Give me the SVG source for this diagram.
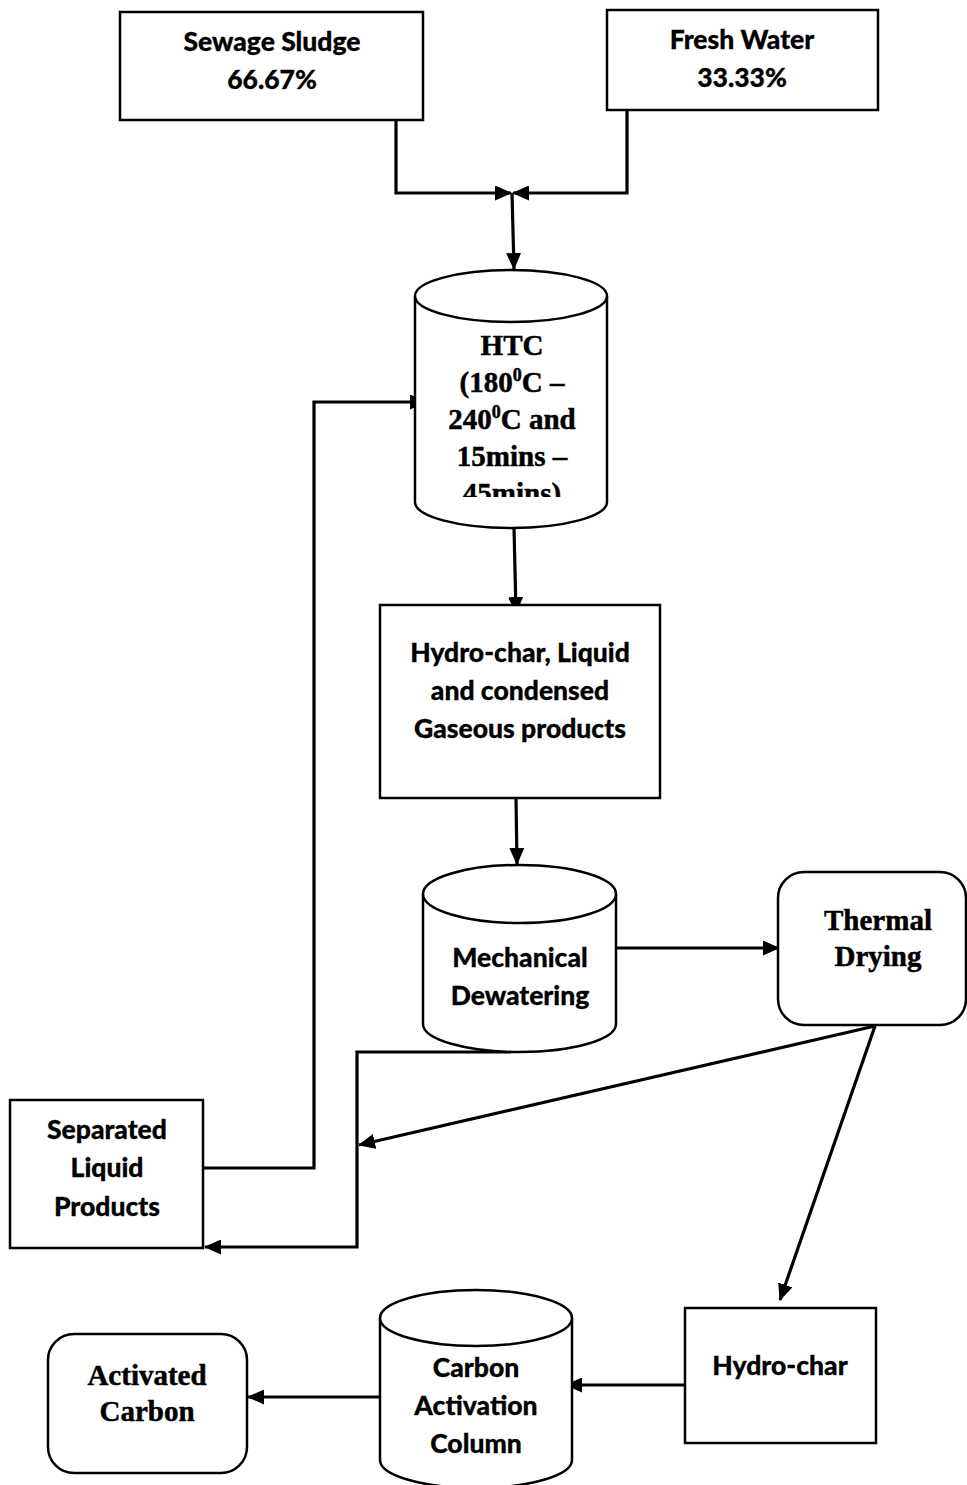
<svg xmlns="http://www.w3.org/2000/svg" width="967" height="1485" viewBox="0 0 967 1485">
  <style>
    .box { fill: #fff; stroke: #000; stroke-width: 2.5; }
    .cyl { fill: #fff; stroke: #000; stroke-width: 2.5; }
    .conn { fill: none; stroke: #000; stroke-width: 3.2; }
    .sans { font-family: Lato, "Liberation Sans", sans-serif; font-weight: 900; font-size: 26.5px; text-anchor: middle; fill: #000; stroke: #000; stroke-width: 0.3; }
    .serif { font-family: "Liberation Serif", "DejaVu Serif", serif; font-weight: bold; font-size: 29px; text-anchor: middle; fill: #000; stroke: #000; stroke-width: 0.5; }
  </style>
  <defs>
    <marker id="arrow" markerWidth="17" markerHeight="15" refX="16" refY="7.5" orient="auto" markerUnits="userSpaceOnUse">
      <path d="M0,0 L17,7.5 L0,15 Z" fill="#000"/>
    </marker>
    <clipPath id="htcClip">
      <rect x="415" y="300" width="192" height="197"/>
    </clipPath>
  </defs>
  <rect width="967" height="1485" fill="#fff"/>

  <!-- connectors -->
  <g id="connectors">
    <path class="conn" d="M396,120 V193 H511" marker-end="url(#arrow)" stroke-width="2.5"/>
    <path class="conn" d="M627,110 V193 H513" marker-end="url(#arrow)" stroke-width="2.5"/>
    <path class="conn" d="M512,193 L514,269" marker-end="url(#arrow)"/>
    <path class="conn" d="M514,528 L516,613" marker-end="url(#arrow)"/>
    <path class="conn" d="M516,798 L517,864" marker-end="url(#arrow)"/>
    <path class="conn" d="M616,948 H779" marker-end="url(#arrow)"/>
    <path class="conn" d="M511,1052 H357 V1247 H205" marker-end="url(#arrow)"/>
    <path class="conn" d="M875,1026 L359,1145" marker-end="url(#arrow)"/>
    <path class="conn" d="M875,1026 L780,1300" marker-end="url(#arrow)"/>
    <path class="conn" d="M203,1168 H314 V402 H426" marker-end="url(#arrow)"/>
    <path class="conn" d="M685,1385 H566" marker-end="url(#arrow)"/>
    <path class="conn" d="M380,1397 H248" marker-end="url(#arrow)"/>
  </g>

  <g id="sewage-sludge">
    <rect class="box" x="120" y="12" width="303" height="108"/>
    <text class="sans" x="272" y="51">Sewage Sludge</text>
    <text class="sans" x="272" y="89">66.67%</text>
  </g>

  <g id="fresh-water">
    <rect class="box" x="607" y="10" width="271" height="100"/>
    <text class="sans" x="742" y="49">Fresh Water</text>
    <text class="sans" x="742" y="87">33.33%</text>
  </g>

  <g id="htc">
    <path class="cyl" d="M415,296 A96,26 0 0 1 607,296 V502 A96,26 0 0 1 415,502 Z"/>
    <path class="cyl" d="M415,296 A96,26 0 0 0 607,296" fill="none"/>
    <g clip-path="url(#htcClip)">
      <text class="serif" x="512" y="355">HTC</text>
      <text class="serif" x="512" y="392">(180<tspan font-size="18" dy="-11">0</tspan><tspan dy="11">C –</tspan></text>
      <text class="serif" x="512" y="429">240<tspan font-size="18" dy="-11">0</tspan><tspan dy="11">C and</tspan></text>
      <text class="serif" x="512" y="466">15mins –</text>
      <text class="serif" x="512" y="503">45mins)</text>
    </g>
  </g>

  <g id="products">
    <rect class="box" x="380" y="605" width="280" height="193"/>
    <text class="sans" x="520" y="662">Hydro-char, Liquid</text>
    <text class="sans" x="520" y="700">and condensed</text>
    <text class="sans" x="520" y="738">Gaseous products</text>
  </g>

  <g id="mechanical-dewatering">
    <path class="cyl" d="M423,894 A96.5,29 0 0 1 616,894 V1024 A96.5,28 0 0 1 423,1024 Z"/>
    <path class="cyl" d="M423,894 A96.5,29 0 0 0 616,894" fill="none"/>
    <text class="sans" x="520" y="967">Mechanical</text>
    <text class="sans" x="520" y="1005">Dewatering</text>
  </g>

  <g id="thermal-drying">
    <rect class="box" x="778" y="872" width="188" height="153" rx="26"/>
    <text class="serif" x="878" y="930">Thermal</text>
    <text class="serif" x="878" y="966">Drying</text>
  </g>

  <g id="separated-liquid">
    <rect class="box" x="10" y="1100" width="193" height="148"/>
    <text class="sans" x="107" y="1139">Separated</text>
    <text class="sans" x="107" y="1177">Liquid</text>
    <text class="sans" x="107" y="1216">Products</text>
  </g>

  <g id="hydro-char">
    <rect class="box" x="685" y="1308" width="191" height="135"/>
    <text class="sans" x="780" y="1375">Hydro-char</text>
  </g>

  <g id="carbon-activation">
    <path class="cyl" d="M380,1318 A96,28 0 0 1 572,1318 V1460 A96,28 0 0 1 380,1460 Z"/>
    <path class="cyl" d="M380,1318 A96,28 0 0 0 572,1318" fill="none"/>
    <text class="sans" x="476" y="1377">Carbon</text>
    <text class="sans" x="476" y="1415">Activation</text>
    <text class="sans" x="476" y="1453">Column</text>
  </g>

  <g id="activated-carbon">
    <rect class="box" x="48" y="1334" width="199" height="139" rx="26"/>
    <text class="serif" x="147" y="1385">Activated</text>
    <text class="serif" x="147" y="1421">Carbon</text>
  </g>
</svg>
